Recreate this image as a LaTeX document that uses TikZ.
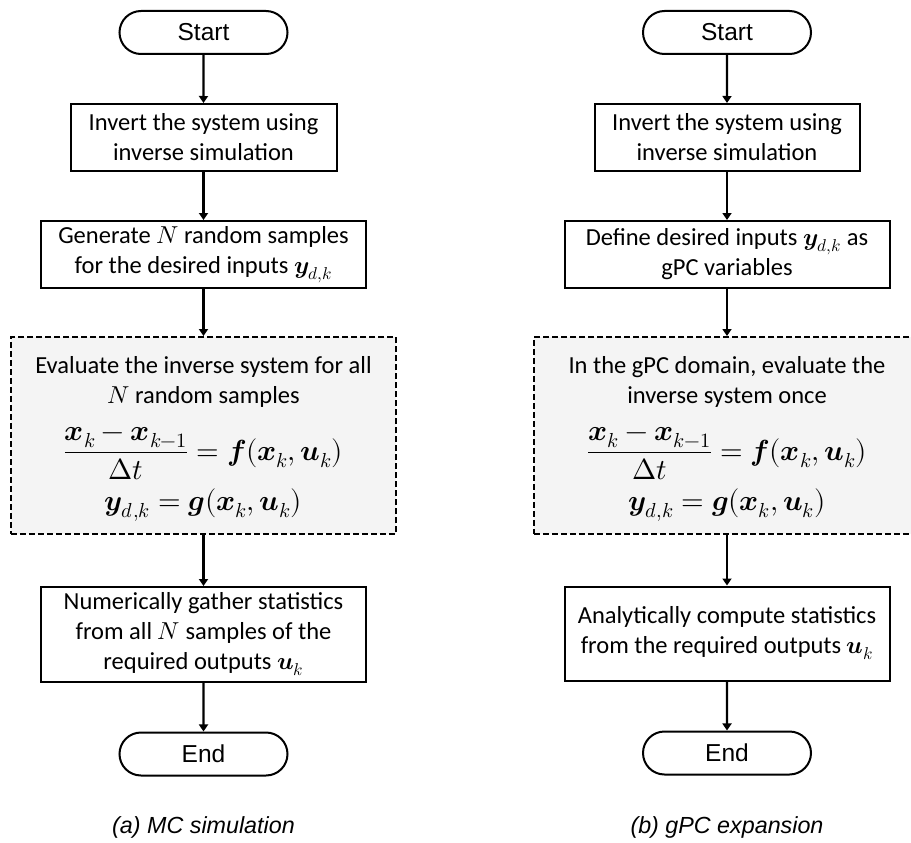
\documentclass[tikz,border=0pt]{standalone}
\usepackage{unicode-math}
\setmainfont{Carlito}
\setmathfont{Latin Modern Math}
\newfontfamily\arialf{Liberation Sans}
\usetikzlibrary{shapes.misc,arrows.meta}
\definecolor{boxgray}{HTML}{F4F4F4}
\tikzset{
  every node/.style={font=\fontsize{24.5}{30}\selectfont,inner sep=0pt},
  proc/.style={draw,line width=2pt,align=center,minimum height=67pt},
  term/.style={draw,line width=2pt,rounded rectangle,minimum width=168pt,minimum height=43pt,font=\arialf\fontsize{24.5}{28}\selectfont},
  evalbox/.style={draw,line width=2pt,dash pattern=on 6pt off 3pt,fill=boxgray,minimum width=386pt,minimum height=197pt},
  txt/.style={anchor=base},
  eqn/.style={anchor=base,font=\fontsize{29}{33}\selectfont},
  flow/.style={line width=2.2pt,-{Triangle[width=9pt,length=7pt]}},
  capt/.style={font=\arialf\itshape\fontsize{23.3}{27}\selectfont}
}
\begin{document}
\begin{tikzpicture}[x=1pt,y=-1pt]
\useasboundingbox (0,0) rectangle (911,843);
\clip (0,0) rectangle (911,843);
% ---- left column: MC simulation
\node[term] (sa) at (203.5,32.5) {Start};
\node[proc,minimum width=266pt] (a1) at (203.5,137.5) {Invert the system using\\inverse simulation};
\node[proc,minimum width=325pt] (a2) at (203.5,254.5) {Generate $N$ random samples\\for the desired inputs $\symbfit{y}_{d,k}$};
\node[evalbox,minimum width=385pt] (a3) at (203.5,435.5) {};
\node[txt] (a3l1) at (203.5,373) {Evaluate the inverse system for all};
\node[txt] (a3l2) at (203.5,403) {$N$ random samples};
\node[eqn] (a3e1) at (203.5,460) {$\displaystyle\frac{\symbfit{x}_k-\symbfit{x}_{k-1}}{\Delta t}=\symbfit{f}(\symbfit{x}_k,\symbfit{u}_k)$};
\node[eqn] (a3e2) at (203.5,510) {$\symbfit{y}_{d,k}=\symbfit{g}(\symbfit{x}_k,\symbfit{u}_k)$};
\node[proc,minimum width=325pt,minimum height=95pt] (a4) at (203.5,634.5) {Numerically gather statistics\\from all $N$ samples of the\\required outputs $\symbfit{u}_k$};
\node[term] (ea) at (203.5,754) {End};
\node[capt] (capa) at (203.5,827) {(a) MC simulation};
\draw[flow] (sa) -- (a1);
\draw[flow] (a1) -- (a2);
\draw[flow] (a2) -- (a3);
\draw[flow] (a3) -- (a4);
\draw[flow] (a4) -- (ea);
% ---- right column: gPC expansion
\node[term] (sb) at (727,32.5) {Start};
\node[proc,minimum width=265pt] (b1) at (727,137.5) {Invert the system using\\inverse simulation};
\node[proc,minimum width=325pt] (b2) at (727,254.5) {Define desired inputs $\symbfit{y}_{d,k}$ as\\gPC variables};
\node[evalbox] (b3) at (727,435.5) {};
\node[txt] (b3l1) at (727,373) {In the gPC domain, evaluate the};
\node[txt] (b3l2) at (727,403) {inverse system once};
\node[eqn] (b3e1) at (727,460) {$\displaystyle\frac{\symbfit{x}_k-\symbfit{x}_{k-1}}{\Delta t}=\symbfit{f}(\symbfit{x}_k,\symbfit{u}_k)$};
\node[eqn] (b3e2) at (727,510) {$\symbfit{y}_{d,k}=\symbfit{g}(\symbfit{x}_k,\symbfit{u}_k)$};
\node[proc,minimum width=325pt,minimum height=94pt] (b4) at (727,633.5) {Analytically compute statistics\\from the required outputs $\symbfit{u}_k$};
\node[term] (eb) at (727,753) {End};
\node[capt] (capb) at (727,827) {(b) gPC expansion};
\draw[flow] (sb) -- (b1);
\draw[flow] (b1) -- (b2);
\draw[flow] (b2) -- (b3);
\draw[flow] (b3) -- (b4);
\draw[flow] (b4) -- (eb);
\end{tikzpicture}
\end{document}
